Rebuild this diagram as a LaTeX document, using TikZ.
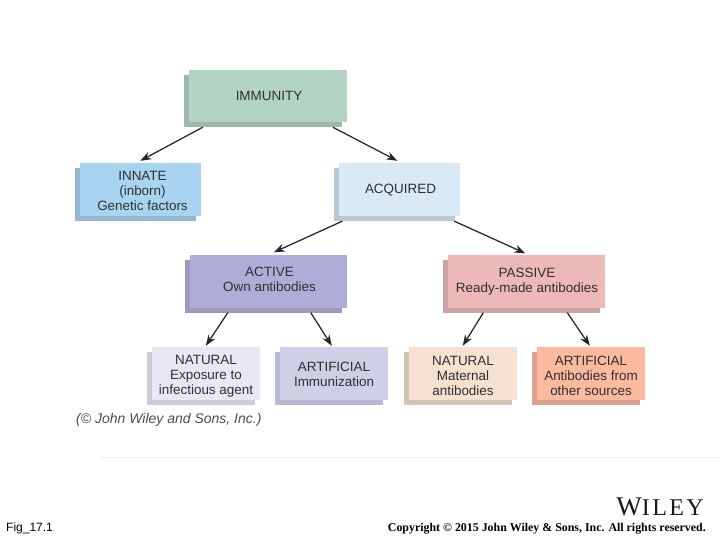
\documentclass[tikz,border=0pt]{standalone}
\usepackage{fontspec}
\setmainfont{Liberation Sans}
\newfontfamily\serifbody{Liberation Serif}
\newfontfamily\wileyfont[LetterSpace=10]{Liberation Serif}
\usetikzlibrary{arrows.meta,shadows}
\definecolor{inktext}{HTML}{303033}
\definecolor{immF}{HTML}{B3D3C3}\definecolor{immS}{HTML}{9DB9AD}
\definecolor{innF}{HTML}{A8D4F2}\definecolor{innS}{HTML}{94B8D0}
\definecolor{acqF}{HTML}{D9E9F5}\definecolor{acqS}{HTML}{B8C8D4}
\definecolor{actF}{HTML}{B0ACD8}\definecolor{actS}{HTML}{9C98BE}
\definecolor{pasF}{HTML}{EDB9B7}\definecolor{pasS}{HTML}{CFA3A3}
\definecolor{natAF}{HTML}{E8E8F5}\definecolor{natAS}{HTML}{CCCCD8}
\definecolor{artAF}{HTML}{CFCFE8}\definecolor{artAS}{HTML}{B8B8D2}
\definecolor{natBF}{HTML}{F6E0CF}\definecolor{natBS}{HTML}{D4C4B5}
\definecolor{artBF}{HTML}{FBB9A0}\definecolor{artBS}{HTML}{DBA28F}
\newcommand{\liftA}{\rule{0pt}{11.5pt}}
\newcommand{\liftB}{\rule{0pt}{14pt}}
\newcommand{\nudge}[1]{\hspace*{#1pt}}
\tikzset{
  box/.style 2 args={fill=#1, draw=none, inner sep=0pt, align=center, text=inktext,
    font=\fontsize{13.45}{15}\selectfont,
    copy shadow={shadow xshift=-5pt, shadow yshift=-5pt, fill=#2, draw=none}},
  wide/.style={minimum width=158pt, minimum height=52pt},
  mid/.style={minimum width=121pt, minimum height=53pt},
  tall/.style={minimum width=157pt, minimum height=53pt},
  small/.style={minimum width=108pt, minimum height=53pt},
  link/.style={draw=black!85, line width=1.25pt, -{Stealth[length=11pt,width=8pt]}},
}
\begin{document}
\begin{tikzpicture}[x=1pt,y=-1pt]
\useasboundingbox (0,0) rectangle (720,540);
\fill[white] (0,0) rectangle (720,540);
\node[box={immF}{immS},wide] (immunity) at (268,96) {\nudge{2}IMMUNITY};
\node[box={innF}{innS},mid] (innate) at (140,189.5) {\nudge{5}\liftA INNATE\\\nudge{5}(inborn)\\\nudge{5}Genetic factors};
\node[box={acqF}{acqS},mid] (acquired) at (399,189.5) {\nudge{3}\liftA ACQUIRED};
\node[box={actF}{actS},tall] (active) at (268.5,281) {\nudge{2}ACTIVE\\\nudge{2}Own antibodies\vphantom{y}};
\node[box={pasF}{pasS},tall] (passive) at (526,281) {\nudge{2}\liftA PASSIVE\\\nudge{2}Ready-made antibodies};
\node[box={natAF}{natAS},small] (natA) at (206,373.5) {\liftB NATURAL\\Exposure to\\infectious agent};
\node[box={artAF}{artAS},small] (artA) at (334,373.5) {\liftA ARTIFICIAL\\Immunization};
\node[box={natBF}{natBS},small] (natB) at (463,373.5) {\liftB NATURAL\\Maternal\\antibodies};
\node[box={artBF}{artBS},small] (artB) at (591,373.5) {\liftB ARTIFICIAL\\Antibodies from\\other sources};
\draw[link] ([xshift=14pt,yshift=-5pt]immunity.south west) -- ([xshift=61pt,yshift=2pt]innate.north west);
\draw[link] ([xshift=144pt,yshift=-5pt]immunity.south west) -- ([xshift=59pt,yshift=2pt]acquired.north west);
\draw[link] ([xshift=4pt,yshift=-5pt]acquired.south west) -- ([xshift=84pt,yshift=2pt]active.north west);
\draw[link] ([xshift=116pt,yshift=-5pt]acquired.south west) -- ([xshift=78pt,yshift=1pt]passive.north west);
\draw[link] ([xshift=38pt,yshift=-5pt]active.south west) -- ([xshift=54pt,yshift=1pt]natA.north west);
\draw[link] ([xshift=121pt,yshift=-5pt]active.south west) -- ([xshift=52pt,yshift=1pt]artA.north west);
\draw[link] ([xshift=36pt,yshift=-5pt]passive.south west) -- ([xshift=54pt,yshift=1pt]natB.north west);
\draw[link] ([xshift=120pt,yshift=-5pt]passive.south west) -- ([xshift=53pt,yshift=1pt]artB.north west);
\node[anchor=west, inner sep=0pt, text=black!70, font=\fontsize{14}{16}\selectfont\itshape] (credit) at (76,419.5) {(© John Wiley and Sons, Inc.)};
\fill[black!6] (100,456.5) rectangle (720,458);
\node[anchor=west, inner sep=0pt, font=\fontsize{12}{14}\selectfont] (fig) at (6,528) {Fig\_17.1};
\node[anchor=east, inner sep=0pt, font=\fontsize{11.9}{14}\selectfont\serifbody\bfseries] (copy) at (706,529) {Copyright © 2015 John Wiley \& Sons, Inc. All rights reserved.};
\node[anchor=east, inner sep=0pt, text=black!90, font=\wileyfont] (wiley) at (704,507) {\fontsize{27}{27}\selectfont W\fontsize{24}{27}\selectfont ILEY};
\end{tikzpicture}
\end{document}
